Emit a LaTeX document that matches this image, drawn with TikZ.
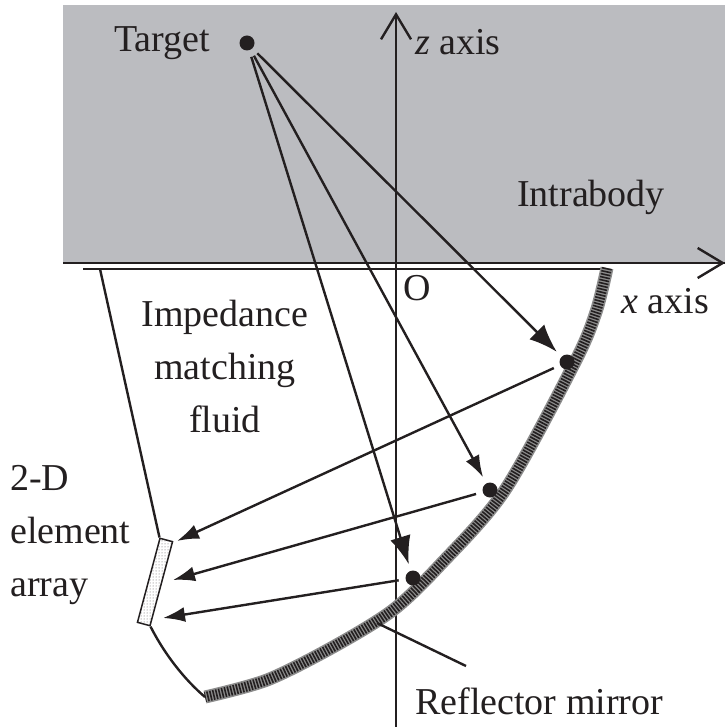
\documentclass[tikz,border=0pt]{standalone}
\usepackage{fontspec}
\setmainfont{Liberation Serif}
\usepackage{xcolor}
\usetikzlibrary{positioning,arrows.meta,patterns}
\definecolor{bodygray}{HTML}{BBBCC0}
\definecolor{inkblack}{HTML}{231F20}

\begin{document}
\begin{tikzpicture}[
    x=1pt, y=-1pt,
    every node/.style={font=\fontsize{38}{53}\selectfont, text=inkblack, inner sep=0pt},
    spot/.style={circle, fill=inkblack, minimum size=15pt, outer sep=7pt},
    lbl/.style={anchor=base west},
    ln/.style={draw=inkblack, line width=2.4pt},
    arrbig/.style={ln, -{Latex[length=28pt,width=21pt]}},
    arrmid/.style={ln, -{Latex[length=22pt,width=15pt]}},
    axis/.style={ln, -{Straight Barb[length=25pt,width=30pt,line width=2.4pt]}},
    elem/.style={draw=inkblack, line width=1.5pt, fill=white, pattern=dots, pattern color=inkblack!75,
                 minimum width=87pt, minimum height=13pt, rotate=75}
]
    \useasboundingbox (0,0) rectangle (725,727);
    \fill[bodygray] (63,5) rectangle (725,264);

    % axes and the fluid outline
    \coordinate (zbot) at (396,727);
    \coordinate (ztop) at (396,12);
    \coordinate (xleft) at (63,263);
    \coordinate (xright) at (725,263);
    \coordinate (fl) at (83,269);
    \coordinate (fa) at (100,269);
    \coordinate (fr) at (607,269);
    \coordinate (mb) at (205,697);
    \coordinate (pt) at (377,623);
    \coordinate (pe) at (466,666);

    \draw[ln, line width=1.4pt] (xleft) -- (xright);
    \draw[axis] (xleft) -- (xright);
    \draw[axis] (zbot) -- (ztop);
    \draw[ln] (fl) -- (fr);

    % mirror
    \draw[line width=13pt, draw=black!45] plot[smooth] coordinates {(607,268) (596,312) (575,362) (505,490) (440,565) (393,610) (333,647) (267,680) (205,697)};
    \draw[line width=10pt, draw=inkblack, dash pattern=on 1.6pt off 1.4pt] plot[smooth] coordinates {(607,268) (596,312) (575,362) (505,490) (440,565) (393,610) (333,647) (267,680) (205,697)};

    \node[spot] (tgt) at (247,43) {};
    \node[spot] (m1) at (567,362) {};
    \node[spot] (m2) at (490,490) {};
    \node[spot] (m3) at (413,578) {};

    \node[elem] (array) at (155,582) {};
    \coordinate (a1) at (177,541);
    \coordinate (a2) at (173,580);
    \coordinate (a3) at (163,618);

    \draw[ln] (fa) -- (array.north east);
    \draw[ln] (array.south west) .. controls (165,655) and (185,680) .. (mb);
    \draw[ln] (pt) -- (pe);

    \draw[arrbig] (tgt) -- (m1);
    \draw[arrmid] (tgt) -- (m2);
    \draw[arrbig] (tgt) -- (m3);
    \draw[arrmid] (m1) -- (a1);
    \draw[arrmid] (m2) -- (a2);
    \draw[arrmid] (m3) -- (a3);

    \node[lbl] (ltgt) at (114,52) {Target};
    \node[lbl] (lz) at (415,55) {\textit{z} axis};
    \node[lbl] (lbody) at (517,207) {Intrabody};
    \node[lbl] (lo) at (403,300) {O};
    \node[lbl] (lx) at (621,313) {\textit{x} axis};
    \node[align=center] (lfluid) at (225,366) {Impedance\\matching\\fluid};
    \node[align=left, anchor=west] (lelem) at (10,535) {2-D\\element\\array};
    \node[lbl] (lmirror) at (415,714) {Reflector mirror};
\end{tikzpicture}
\end{document}
